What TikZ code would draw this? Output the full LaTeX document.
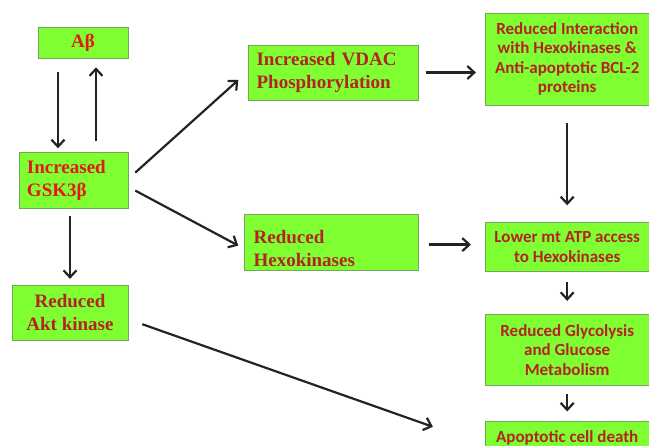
\documentclass[tikz,border=0pt]{standalone}
\usepackage{fontspec}
\setmainfont{Liberation Serif}
\newfontfamily\calibfont{Carlito}
\usetikzlibrary{positioning,arrows.meta}
\definecolor{boxgreen}{RGB}{127,255,50}
\definecolor{boxline}{RGB}{115,165,90}
\definecolor{txtred}{RGB}{180,35,35}
\definecolor{gskred}{RGB}{225,25,25}
\definecolor{arrowgray}{RGB}{35,35,35}

\begin{document}
\begin{tikzpicture}[x=1pt,y=-1pt,>={Straight Barb[length=7pt,width=13pt]},
    box/.style={draw=boxline,fill=boxgreen,line width=0.6pt,inner sep=0pt},
    serifbox/.style={box,font=\bfseries\fontsize{19}{23}\selectfont,text=txtred},
    sansbox/.style={box,font=\calibfont\bfseries\fontsize{17}{19.5}\selectfont,
      text=txtred,minimum width=164pt,align=center},
    flow/.style={->,draw=arrowgray,line width=2.2pt}]

  \useasboundingbox (0,0) rectangle (649,446);
  \clip (0,0) rectangle (649,446);

  % Left column
  \node[serifbox,text=gskred,minimum width=90pt,minimum height=31pt] (ab) at (83,42.5) {Aβ};
  \node[serifbox,text=gskred,text width=93pt,inner xsep=8pt,align=left,minimum height=56pt,
    below=94pt of ab,xshift=-9.5pt] (gsk) {Increased\\GSK3β};
  \node[serifbox,align=center,minimum width=116pt,minimum height=55pt,
    below=76pt of gsk,xshift=-3.5pt] (akt) {Reduced\\Akt kinase};

  % Middle column
  \node[serifbox,text width=154pt,inner xsep=8pt,align=left,minimum height=55pt,
    right=120pt of ab,yshift=-30pt] (vdac) {Increased VDAC\\Phosphorylation};
  \node[serifbox,text width=156pt,inner xsep=9pt,align=left,minimum height=56pt,
    below=114pt of vdac,xshift=-2pt] (hexo) {\rule{0pt}{24pt}Reduced\\Hexokinases};

  % Right column
  \node[sansbox,minimum height=92pt,right=66pt of vdac,yshift=13.5pt] (inter)
    {Reduced Interaction\\with Hexokinases \&\\Anti-apoptotic BCL-2\\proteins};
  \node[sansbox,minimum height=49pt,below=117pt of inter] (lower) {Lower mt ATP access\\to Hexokinases};
  \node[sansbox,minimum height=71pt,below=42pt of lower] (glyco) {Reduced Glycolysis\\and Glucose\\Metabolism};
  \node[sansbox,minimum height=33pt,below=36pt of glyco] (apop) {Apoptotic cell death};

  % Feedback between Abeta and GSK3beta
  \draw[flow,shorten <=14pt,shorten >=4pt] ([xshift=-25pt]ab.south) -- ([xshift=-25pt]ab.south |- gsk.north);
  \draw[flow,shorten <=11pt,shorten >=9pt] ([xshift=13pt]ab.south |- gsk.north) -- ([xshift=13pt]ab.south);

  % Out of GSK3beta
  \draw[flow] ([xshift=7pt,yshift=8pt]gsk.east) -- ([xshift=-10pt,yshift=-7.5pt]vdac.west);
  \draw[flow] ([xshift=7pt,yshift=-10pt]gsk.east) -- ([xshift=-6pt,yshift=-3pt]hexo.west);
  \draw[flow,shorten <=7pt,shorten >=6pt] (akt.north |- gsk.south) -- (akt.north);
  \draw[flow] ([xshift=14pt,yshift=-11.5pt]akt.east) -- ([xshift=-52pt,yshift=11.5pt]apop.west);

  % Towards cell death
  \draw[flow,shorten <=7pt,shorten >=9pt] (vdac.east) -- (vdac.east -| inter.west);
  \draw[flow,shorten <=10pt,shorten >=14pt] ([yshift=-2pt]hexo.east) -- ([yshift=-2pt]hexo.east -| lower.west);
  \draw[flow,shorten <=18pt,shorten >=17pt] (inter.south) -- (lower.north);
  \draw[flow,shorten <=10pt,shorten >=13pt] (lower.south) -- (glyco.north);
  \draw[flow,shorten <=9pt,shorten >=10pt] (glyco.south) -- (apop.north);

\end{tikzpicture}
\end{document}
